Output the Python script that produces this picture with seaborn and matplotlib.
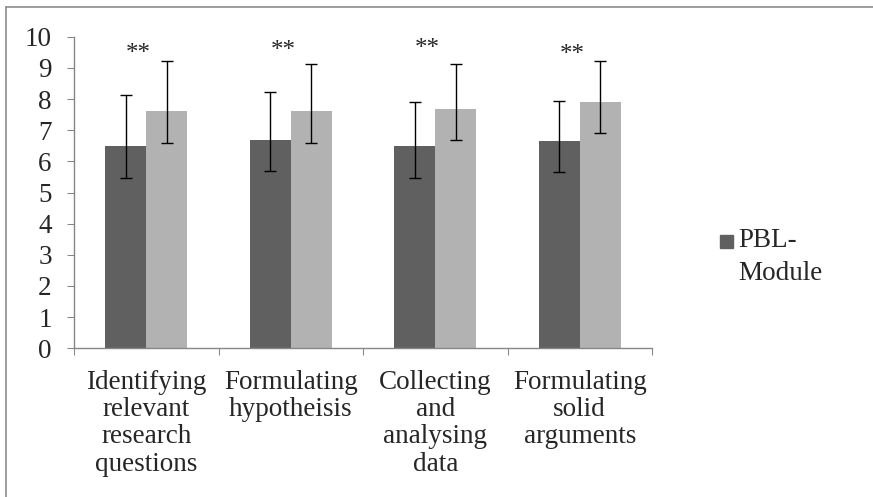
import numpy as np
import pandas as pd
import matplotlib
matplotlib.use("Agg")
import matplotlib.pyplot as plt
from matplotlib.patches import Rectangle
from matplotlib.lines import Line2D
import seaborn as sns

CATEGORIES = [
    "Identifying\nrelevant\nresearch\nquestions",
    "Formulating\nhypotheisis",
    "Collecting\nand\nanalysing\ndata",
    "Formulating\nsolid\narguments",
]
GROUPS = ["PBL-Module", "Conventional"]

pbl_mean = [6.48, 6.67, 6.48, 6.65]
pbl_low = [5.48, 5.68, 5.48, 5.66]
pbl_high = [8.12, 8.21, 7.92, 7.95]

conv_mean = [7.60, 7.60, 7.68, 7.92]
conv_low = [6.60, 6.60, 6.68, 6.90]
conv_high = [9.23, 9.13, 9.11, 9.21]

star_labels = ["**", "**", "**", "**"]
star_heights = [9.24, 9.35, 9.40, 9.22]

y_ticks = list(range(0, 11))

COLORS = {"PBL-Module": "#606060", "Conventional": "#b2b2b2"}
AXIS_GREY = "#868686"
FS = 19.5

sns.set_style("white")
plt.rcParams["font.family"] = ["Liberation Serif", "DejaVu Serif"]
plt.rcParams["font.size"] = FS

df = pd.DataFrame({
    "skill": CATEGORIES * 2,
    "group": [GROUPS[0]] * 4 + [GROUPS[1]] * 4,
    "score": pbl_mean + conv_mean,
})

fig = plt.figure(figsize=(8.73, 4.97), dpi=100)
ax = fig.add_axes([74 / 873, 1 - 348.3 / 497, (652 - 74) / 873, (348.3 - 36.7) / 497])

sns.barplot(data=df, x="skill", y="score", hue="group", order=CATEGORIES,
            hue_order=GROUPS, palette=COLORS, width=0.57, errorbar=None,
            saturation=1, ax=ax, legend=False, edgecolor="none")

# asymmetric error bars on top of each bar
errs = [(pbl_mean, pbl_low, pbl_high), (conv_mean, conv_low, conv_high)]
for cont, (m, lo, hi) in zip(ax.containers, errs):
    xs = [p.get_x() + p.get_width() / 2 for p in cont]
    m = np.array(m)
    yerr = np.vstack([m - np.array(lo), np.array(hi) - m])
    ax.errorbar(xs, m, yerr=yerr, fmt="none", ecolor="black",
                elinewidth=1, capsize=4, capthick=1)

for i, (lab, h) in enumerate(zip(star_labels, star_heights)):
    ax.text(i - 0.055, h, lab, ha="center", va="baseline", fontsize=18)

ax.set_ylim(0, 10)
ax.set_xlim(-0.5, 3.5)
ax.set_yticks(y_ticks)
ax.set_xticks(range(len(CATEGORIES)))
ax.set_xticklabels(CATEGORIES, linespacing=1.12)
ax.set_xticks(np.arange(-0.5, 4, 1), minor=True)
ax.set_xlabel("")
ax.set_ylabel("")

for side in ["top", "right"]:
    ax.spines[side].set_visible(False)
for side in ["left", "bottom"]:
    ax.spines[side].set_color(AXIS_GREY)
    ax.spines[side].set_linewidth(1)

ax.tick_params(axis="y", which="major", left=True, length=5, width=0.75,
               color=AXIS_GREY, pad=11, labelsize=FS)
ax.tick_params(axis="x", which="major", bottom=False, pad=12, labelsize=FS)
ax.tick_params(axis="x", which="minor", bottom=True, length=5, width=0.75,
               color=AXIS_GREY)

# legend: only the first series is listed in the original
fig.add_artist(Rectangle((719.5 / 873, 1 - 247.7 / 497), 13 / 873, 13 / 497,
                         transform=fig.transFigure, color=COLORS["PBL-Module"]))
fig.text(738 / 873, 1 - 228 / 497, "PBL-\nModule", ha="left", va="top",
         fontsize=FS, linespacing=1.4)

# chart frame (left and top edges only visible)
fig.add_artist(Line2D([6 / 873, 6 / 873], [0, 1 - 7 / 497], transform=fig.transFigure,
                      color="#8c8c8c", linewidth=1.2))
fig.add_artist(Line2D([6 / 873, 1], [1 - 7 / 497, 1 - 7 / 497], transform=fig.transFigure,
                      color="#8c8c8c", linewidth=1.2))

fig.savefig("out.png", dpi=100)
